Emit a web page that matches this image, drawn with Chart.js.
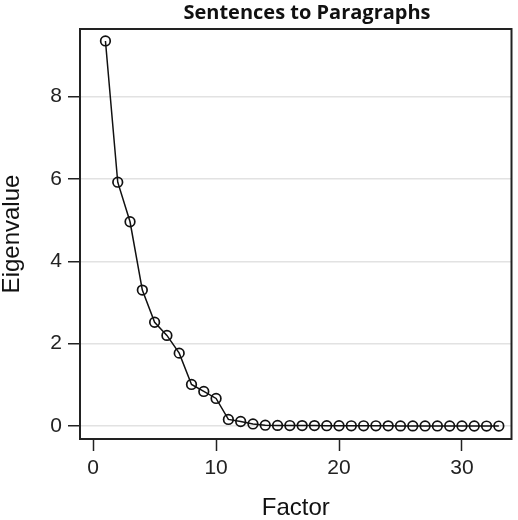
<!DOCTYPE html>
<html>
<head>
<meta charset="utf-8">
<script src="https://cdn.jsdelivr.net/npm/chart.js@4/dist/chart.umd.min.js"></script>
<style>
  html, body { margin: 0; padding: 0; background: #ffffff; }
  #wrap { width: 518px; height: 520px; position: relative; }
</style>
</head>
<body>
<div id="wrap"><canvas id="c" width="518" height="520"></canvas></div>
<script>
const chartTitle = "Sentences to Paragraphs";
const xAxisTitle = "Factor";
const yAxisTitle = "Eigenvalue";
const factors = [1,2,3,4,5,6,7,8,9,10,11,12,13,14,15,16,17,18,19,20,21,22,23,24,25,26,27,28,29,30,31,32,33];
const eigenvalues = [9.35, 5.92, 4.96, 3.30, 2.52, 2.20, 1.77, 1.01, 0.84, 0.67, 0.16, 0.11, 0.05, 0.02, 0.015, 0.012, 0.01, 0.01, 0.008, 0.007, 0.006, 0.005, 0.005, 0.004, 0.003, 0.003, 0.002, 0.002, 0.001, 0.001, 0.001, 0.0, 0.0];
const xTicks = [0, 10, 20, 30];
const yTicks = [0, 2, 4, 6, 8];

const framePlugin = {
  id: 'frame',
  beforeDatasetsDraw(chart) {
    const {ctx, chartArea: a} = chart;
    ctx.save();
    ctx.strokeStyle = '#222222';
    ctx.lineWidth = 2;
    ctx.strokeRect(a.left, a.top, a.right - a.left, a.bottom - a.top);
    ctx.restore();
  },
  afterDraw(chart) {
    const {ctx} = chart;
    ctx.save();
    ctx.fillStyle = '#111111';
    ctx.font = 'bold 20px "Open Sans"';
    ctx.textAlign = 'center';
    ctx.textBaseline = 'middle';
    ctx.fillText(chartTitle, 307, 13);
    ctx.restore();
  }
};

new Chart(document.getElementById('c'), {
  type: 'line',
  data: {
    datasets: [{
      data: factors.map((f, i) => ({x: f, y: eigenvalues[i]})),
      borderColor: '#111111',
      borderWidth: 1.5,
      pointRadius: 4.8,
      pointBorderWidth: 1.7,
      pointBackgroundColor: 'rgba(255,255,255,0)',
      pointBorderColor: '#111111',
      tension: 0,
      clip: false
    }]
  },
  options: {
    responsive: false,
    animation: false,
    events: [],
    layout: { padding: { left: 0, right: 5, top: 29, bottom: 0 } },
    plugins: { legend: { display: false }, tooltip: { enabled: false }, title: { display: false } },
    scales: {
      x: {
        type: 'linear',
        min: -1.07,
        max: 34.03,
        afterBuildTicks(s) { s.ticks = xTicks.map(v => ({value: v})); },
        afterFit(s) { s.height = 81; },
        border: { display: false },
        grid: { drawOnChartArea: false, drawTicks: true, tickLength: 12, tickColor: '#222222', tickWidth: 1.5 },
        ticks: { color: '#222222', font: { family: '"Liberation Sans", Arial', size: 21 }, padding: 5, maxRotation: 0 },
        title: { display: true, text: xAxisTitle, color: '#111111', font: { family: '"Liberation Sans", Arial', size: 24, lineHeight: 1 }, padding: { top: 0, bottom: 0 } }
      },
      y: {
        type: 'linear',
        min: -0.315,
        max: 9.64,
        afterBuildTicks(s) { s.ticks = yTicks.map(v => ({value: v})); },
        afterFit(s) { s.width = 80; },
        border: { display: false },
        grid: { drawOnChartArea: true, color: '#e2e2e2', lineWidth: 1.5, drawTicks: true, tickLength: 12, tickColor: '#222222', tickWidth: 1.5 },
        ticks: { color: '#222222', font: { family: '"Liberation Sans", Arial', size: 21 }, padding: 6 },
        title: { display: true, text: yAxisTitle, color: '#111111', font: { family: '"Liberation Sans", Arial', size: 24, lineHeight: 1 }, padding: { top: 0, bottom: 0 } }
      }
    }
  },
  plugins: [framePlugin]
});
</script>
</body>
</html>
